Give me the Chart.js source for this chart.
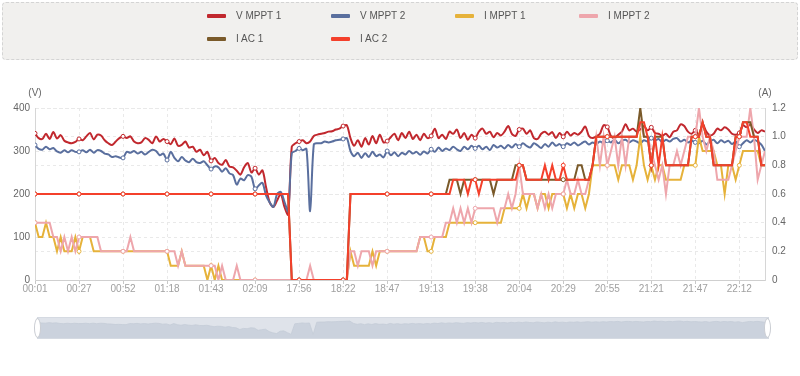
<!DOCTYPE html>
<html>
<head>
<meta charset="utf-8">
<script src="https://cdn.jsdelivr.net/npm/chart.js@4.4.1/dist/chart.umd.min.js"></script>
<style>
html,body{margin:0;padding:0;background:#fff;}
#wrap{position:relative;width:800px;height:376px;overflow:hidden;font-family:'Liberation Sans',Arial,sans-serif;}
#legendBox{position:absolute;left:2px;top:2px;width:794px;height:56px;background:#f1f0ee;border:1px dashed #d4d4d4;border-radius:4px;}
.item{position:absolute;height:14px;line-height:14px;font-size:10px;color:#555;white-space:nowrap;}
.item i{position:absolute;left:0;top:5px;width:19px;height:4px;border-radius:1px;}
.item span{position:absolute;left:29px;top:0;}
#main{position:absolute;left:0;top:0;}
#zoomFrame{position:absolute;left:37px;top:317px;width:730px;height:20px;background:#dfe3ea;border:1px solid #d5dae2;}
#zoomCanvas{position:absolute;left:0;top:0;}
.handle{position:absolute;top:318px;width:5px;height:18px;background:#fff;border:1px solid #c9ccd2;border-radius:50%;}
</style>
</head>
<body>
<div id="wrap">
  <div id="legendBox"></div>
  <canvas id="main" width="800" height="300"></canvas>
  <div id="zoomFrame"><canvas id="zoomCanvas" width="730" height="20"></canvas></div>
  <div class="handle" style="left:34px"></div>
  <div class="handle" style="left:764px"></div>
</div>
<script>
// time labels shown on the x axis (one every 12 samples)
const tickLabels=['00:01','00:27','00:52','01:18','01:43','02:09','17:56','18:22','18:47','19:13','19:38','20:04','20:29','20:55','21:21','21:47','22:12'];

// voltages (V), left axis
const vMppt1=[
341,330,328,340,328,344,329,337,324,320,
318,321,328,325,334,342,327,338,336,325,
318,314,322,330,334,330,334,322,318,320,
330,326,318,334,322,328,322,316,329,312,
314,322,308,310,298,303,290,298,277,284,
272,268,279,264,262,254,245,262,272,250,
260,245,255,215,180,170,185,200,170,152,
310,318,322,325,318,322,335,338,340,342,
345,346,350,352,358,360,330,312,325,310,
330,315,335,318,338,320,323,332,340,325,
342,330,345,328,338,325,340,330,335,352,
330,338,328,345,340,350,330,342,326,338,
330,345,352,340,345,332,342,336,345,358,
340,335,350,352,340,348,330,328,340,345,
338,344,330,342,333,345,336,342,338,345,
357,335,330,334,340,360,356,335,330,338,
345,362,348,352,345,350,358,348,355,342,
340,335,340,332,345,348,362,358,345,340,
348,338,362,345,336,340,352,348,355,350,
340,338,342,360,355,362,350,342,348,345];
const vMppt2=[
314,305,303,310,304,307,299,296,302,297,
302,298,298,302,297,303,296,302,300,294,
292,286,288,285,284,298,296,300,294,298,
292,298,303,300,290,294,279,298,284,276,
286,278,274,282,274,272,276,267,258,264,
262,252,260,248,244,222,236,232,244,240,
212,220,226,196,180,170,200,205,182,160,
295,300,306,302,305,160,315,318,318,322,
320,322,325,326,328,330,300,288,296,284,
295,286,298,288,292,285,300,290,297,288,
296,292,300,294,298,291,299,294,304,298,
308,300,306,302,310,304,300,310,304,312,
306,312,304,310,302,314,308,312,306,314,
308,316,310,318,312,308,318,313,307,316,
310,320,312,316,310,318,314,320,313,318,
322,315,320,316,322,318,324,320,326,318,
324,326,320,325,322,318,325,322,330,324,
328,320,326,322,328,330,322,326,320,324,
320,318,324,315,322,326,318,325,320,324,
316,322,310,318,325,320,326,322,315,300];

// currents (A), right axis
const iMppt1=[
.4,.3,.3,.4,.3,.3,.2,.3,.2,.2,
.2,.3,.2,.3,.3,.3,.2,.2,.2,.2,
.2,.2,.2,.2,.2,.2,.2,.2,.2,.2,
.2,.2,.2,.2,.2,.2,.2,.1,.1,.1,
.2,.1,.1,.1,.1,.1,.1,0,.1,0,
.1,0,0,0,0,0,0,0,0,0,
0,0,0,0,0,0,0,0,0,0,
0,0,0,0,0,0,0,0,0,0,
0,0,0,0,0,0,.2,.1,.1,.1,
.1,.1,.2,.1,.2,.2,.2,.2,.2,.2,
.2,.2,.2,.2,.2,.3,.3,.2,.2,.3,
.3,.3,.3,.4,.4,.4,.4,.4,.4,.4,
.4,.4,.4,.4,.4,.4,.4,.4,.5,.5,
.5,.5,.5,.6,.5,.6,.6,.5,.6,.6,
.5,.6,.6,.6,.6,.5,.6,.5,.6,.6,
.5,.6,.8,.8,.8,.8,.8,.8,.8,.7,
.8,.8,.8,.7,.8,1,.8,.7,.8,.7,
.8,.8,.7,.7,.7,.7,.7,.8,.8,.8,
.8,1,.9,.9,.9,.9,.8,.8,.6,.8,
.8,.7,.8,.9,.9,.9,.9,.9,.8,.8];
const iMppt2=[
.4,.4,.4,.4,.4,.3,.3,.2,.3,.2,
.3,.2,.3,.3,.3,.3,.3,.3,.2,.2,
.2,.2,.2,.2,.2,.2,.3,.2,.2,.2,
.2,.2,.2,.2,.2,.2,.2,.2,.2,.1,
.2,.1,.1,.1,.1,.1,.1,.1,.1,.1,
0,.1,0,0,0,.1,0,0,0,0,
0,0,0,0,0,0,0,0,0,0,
0,0,0,0,0,.1,0,0,0,0,
0,0,0,0,0,0,.2,.2,.1,.2,
.2,.2,.1,.2,.2,.2,.2,.2,.2,.2,
.2,.2,.2,.2,.2,.3,.3,.3,.3,.3,
.3,.3,.4,.4,.5,.4,.5,.4,.5,.4,
.5,.5,.5,.5,.5,.5,.4,.5,.5,.6,
.5,.6,.8,.6,.6,.6,.6,.5,.6,.5,
.6,.5,.6,.6,.6,.7,.6,.6,.7,.6,
.6,.7,.8,1,.8,1,.8,.9,1,.8,
1,.8,1,1,1,1.1,1,1,.9,.8,
.7,.8,.6,.8,.8,.9,.8,.9,1,1,
1,1.2,1,.9,1,.9,.7,.7,.7,.7,
.8,.9,1,1,1,1.2,1,.7,.8,.9];
const iAc1=[
.6,.6,.6,.6,.6,.6,.6,.6,.6,.6,
.6,.6,.6,.6,.6,.6,.6,.6,.6,.6,
.6,.6,.6,.6,.6,.6,.6,.6,.6,.6,
.6,.6,.6,.6,.6,.6,.6,.6,.6,.6,
.6,.6,.6,.6,.6,.6,.6,.6,.6,.6,
.6,.6,.6,.6,.6,.6,.6,.6,.6,.6,
.6,.6,.6,.6,.6,.6,.6,.6,.6,.6,
0,0,0,0,0,0,0,0,0,0,
0,0,0,0,0,0,.6,.6,.6,.6,
.6,.6,.6,.6,.6,.6,.6,.6,.6,.6,
.6,.6,.6,.6,.6,.6,.6,.6,.6,.6,
.6,.6,.6,.7,.7,.7,.6,.7,.7,.7,
.7,.7,.7,.7,.7,.6,.7,.7,.7,.7,
.7,.8,.8,.8,.7,.7,.7,.7,.7,.7,
.7,.7,.7,.7,.7,.7,.7,.7,.8,.8,
.7,.7,.8,1,1,1,1,1,1,1,
1,1,1,1,1,1.2,1,1,.8,1,
1,1,.8,.8,.8,.8,.8,.8,.8,1,
1,1,1.1,1,1,.8,.8,.8,.8,.8,
.8,1,1,1.1,1.1,1.1,1,1,.8,.8];
const iAc2=[
.6,.6,.6,.6,.6,.6,.6,.6,.6,.6,
.6,.6,.6,.6,.6,.6,.6,.6,.6,.6,
.6,.6,.6,.6,.6,.6,.6,.6,.6,.6,
.6,.6,.6,.6,.6,.6,.6,.6,.6,.6,
.6,.6,.6,.6,.6,.6,.6,.6,.6,.6,
.6,.6,.6,.6,.6,.6,.6,.6,.6,.6,
.6,.6,.6,.6,.6,.6,.6,.6,.6,.6,
0,0,0,0,0,0,0,0,0,0,
0,0,0,0,0,0,.6,.6,.6,.6,
.6,.6,.6,.6,.6,.6,.6,.6,.6,.6,
.6,.6,.6,.6,.6,.6,.6,.6,.6,.6,
.6,.6,.6,.6,.7,.7,.7,.7,.6,.7,
.7,.6,.7,.7,.7,.7,.7,.7,.7,.7,
.7,.7,.8,.8,.7,.7,.7,.7,.7,.8,
.7,.8,.7,.7,.8,.7,.7,.7,.7,.7,
.7,.7,.8,1,1,1,1,1,1,1,
1,1,1,1,1,1.1,1.1,1,.8,1,
.8,1,.8,.8,.8,.8,.8,.8,.8,1,
1,1,1.1,1,1,.8,.8,.8,.8,.8,
.8,1,1,1.1,1.1,1,1,1,.8,.8];

const seriesNames=['V MPPT 1','V MPPT 2','I MPPT 1','I MPPT 2','I AC 1','I AC 2'];
const seriesColors=['#c1282e','#5a6f9e','#e6b23a','#eea6ac','#7a5a2a','#f4402b'];

/* html legend, 4 columns */
const wrap=document.getElementById('wrap');
seriesNames.forEach((n,i)=>{
  const d=document.createElement('div');
  d.className='item';
  d.style.left=(207+(i%4)*124)+'px';
  d.style.top=(i<4?9:32)+'px';
  d.innerHTML=`<i style="background:${seriesColors[i]}"></i><span>${n}</span>`;
  wrap.appendChild(d);
});

function mkLine(i,data,axis,tension){
  const c=seriesColors[i];
  return {
    label:seriesNames[i],data:data.map((v,k)=>({x:k,y:v})),yAxisID:axis,
    borderColor:c,backgroundColor:c,borderWidth:2,tension,fill:false,
    order:5-i,
    pointRadius:ctx=>ctx.dataIndex%12===0?2:0,
    pointBackgroundColor:'#fff',pointBorderColor:c,pointBorderWidth:1
  };
}

const unitLabels={id:'unitLabels',afterDraw(c){
  const x=c.ctx;x.save();
  x.font='10px "Liberation Sans", Arial, sans-serif';x.fillStyle='#666';
  x.textAlign='center';x.textBaseline='middle';
  x.fillText('(V)',c.chartArea.left,93);
  x.fillText('(A)',c.chartArea.right,93);
  x.restore();
}};

const tickFont={size:10,family:'"Liberation Sans", Arial, sans-serif'};
new Chart(document.getElementById('main'),{
  type:'line',
  data:{datasets:[
    mkLine(0,vMppt1,'y',0.3),
    mkLine(1,vMppt2,'y',0.3),
    mkLine(2,iMppt1,'y1',0),
    mkLine(3,iMppt2,'y1',0),
    mkLine(4,iAc1,'y1',0),
    mkLine(5,iAc2,'y1',0)
  ]},
  plugins:[unitLabels],
  options:{
    responsive:false,animation:false,events:[],devicePixelRatio:1,
    layout:{padding:{top:108,left:0,right:0,bottom:0}},
    plugins:{legend:{display:false},tooltip:{enabled:false}},
    scales:{
      x:{type:'linear',min:0,max:199,afterFit:s=>{s.height=20;},
        grid:{color:'#e9e9e9',tickLength:4,tickColor:'#c8c8c8',tickBorderDash:[]},
        border:{color:'#cfcfcf',dash:[3,3]},
        ticks:{stepSize:12,includeBounds:false,autoSkip:false,maxRotation:0,padding:-1,color:'#a0a0a0',font:tickFont,
          callback:v=>tickLabels[v/12]??''}},
      y:{position:'left',min:0,max:400,afterFit:s=>{s.width=35;},
        grid:{color:'#e9e9e9',drawTicks:false},
        border:{color:'#d6d6d6',dash:[3,3]},
        ticks:{stepSize:100,padding:5,color:'#666',font:tickFont}},
      y1:{position:'right',min:0,max:1.2,afterFit:s=>{s.width=35;},
        grid:{color:'#e9e9e9',drawTicks:false},
        border:{color:'#d6d6d6',dash:[3,3]},
        ticks:{stepSize:0.2,padding:7,color:'#666',font:tickFont}}
    }
  }
});

/* data zoom shadow strip */
new Chart(document.getElementById('zoomCanvas'),{
  type:'line',
  data:{datasets:[{data:vMppt2.map((v,k)=>({x:k,y:v})),borderColor:'#c4cbd7',borderWidth:0.8,
    backgroundColor:'#cbd2dd',fill:'start',pointRadius:0,tension:0}]},
  options:{
    responsive:false,animation:false,events:[],devicePixelRatio:1,
    layout:{padding:0},
    plugins:{legend:{display:false},tooltip:{enabled:false}},
    scales:{x:{type:'linear',min:0,max:199,display:false},y:{min:114,max:369,display:false}}
  }
});
</script>
</body>
</html>
